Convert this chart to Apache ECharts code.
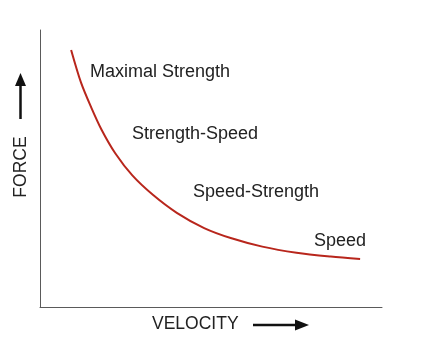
<!DOCTYPE html>
<html>
<head>
<meta charset="utf-8">
<style>
  html, body { margin: 0; padding: 0; background: #ffffff; }
  #chart { width: 422px; height: 349px; }
</style>
<script src="https://cdn.jsdelivr.net/npm/echarts@6/dist/echarts.min.js"></script>
</head>
<body>
<div id="chart"></div>
<script>
// Force–velocity curve (relative units, 0–100 on both axes)
var velocity = [9.1, 12, 15, 18, 22, 27, 33, 40, 48, 56, 65, 75, 85, 93.6];
var force    = [92.8, 81, 72, 64, 55.5, 47.5, 40.5, 34, 28.5, 24.8, 21.8, 19.6, 18.2, 17.3];

// Zone names along the curve
var zoneNames = ['Maximal Strength', 'Strength-Speed', 'Speed-Strength', 'Speed'];

var xTitle = 'VELOCITY';
var yTitle = 'FORCE';

var FONT = '"Liberation Sans", Arial, Helvetica, sans-serif';
var TEXT = '#222222';

var chart = echarts.init(document.getElementById('chart'), null, { renderer: 'canvas' });

var points = velocity.map(function (v, i) { return [v, force[i]]; });

function axis() {
  return {
    type: 'value', min: 0, max: 100,
    axisLine: { show: true, lineStyle: { color: '#5a5a5a', width: 1 } },
    axisTick: { show: false },
    axisLabel: { show: false },
    splitLine: { show: false }
  };
}

var zoneStyle = [
  { left: 90,  top: 63 },
  { left: 132, top: 125 },
  { left: 193, top: 183 },
  { left: 314, top: 232 }
];

var graphics = zoneNames.map(function (name, i) {
  return {
    type: 'text', left: zoneStyle[i].left, top: zoneStyle[i].top,
    style: { text: name, fill: TEXT, font: '18px ' + FONT }
  };
});

// Axis titles with arrows
graphics.push(
  { type: 'text', left: 152, top: 315, style: { text: xTitle, fill: TEXT, font: '17.5px ' + FONT } },
  { type: 'line', shape: { x1: 253, y1: 325, x2: 297, y2: 325 }, style: { stroke: '#111', lineWidth: 2.5 } },
  { type: 'polygon', shape: { points: [[295, 319.5], [309, 325], [295, 330.5]] }, style: { fill: '#111' } },
  { type: 'text', x: 21, y: 167, rotation: Math.PI / 2,
    style: { text: yTitle, fill: TEXT, font: '17.5px ' + FONT, align: 'center', verticalAlign: 'middle' } },
  { type: 'line', shape: { x1: 20.5, y1: 119, x2: 20.5, y2: 84 }, style: { stroke: '#111', lineWidth: 2.5 } },
  { type: 'polygon', shape: { points: [[15, 86], [20.5, 73], [26, 86]] }, style: { fill: '#111' } }
);

chart.setOption({
  animation: false,
  backgroundColor: '#ffffff',
  grid: { left: 40, right: 40, top: 30, bottom: 42 },
  xAxis: axis(),
  yAxis: axis(),
  series: [{
    type: 'line',
    data: points,
    smooth: 0.3,
    showSymbol: false,
    lineStyle: { color: '#b8261c', width: 2 }
  }],
  graphic: graphics
});
</script>
</body>
</html>
